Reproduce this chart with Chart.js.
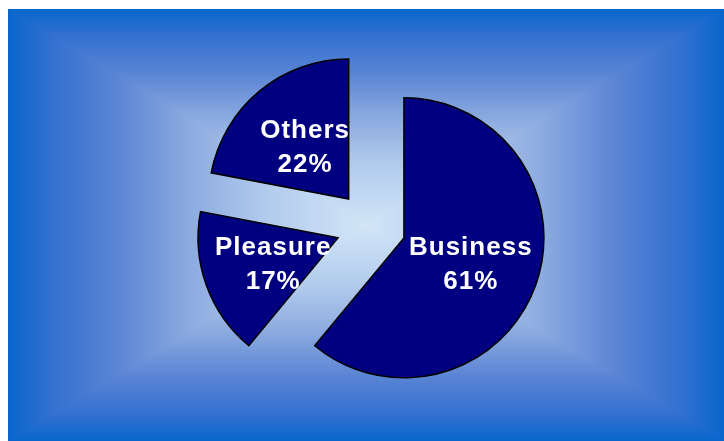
<!DOCTYPE html>
<html>
<head>
<meta charset="utf-8">
<script src="https://cdn.jsdelivr.net/npm/chart.js@4/dist/chart.umd.min.js"></script>
<style>
    html, body { margin: 0; padding: 0; background: #ffffff; }
    #wrap { width: 724px; height: 441px; }
</style>
</head>
<body>
<div id="wrap"><canvas id="pieChart" width="724" height="441"></canvas></div>
<script>
// travel purpose split
let categories = ['Business', 'Pleasure', 'Others']
let shares = [61, 17, 22]

const sliceColor = '#000080'
const explode = 35

/* Panel behind the chart: rectangular gradient, light in the middle, blue at the edges */
const panelBackground = {
    id: 'panelBackground',
    beforeDraw(chart) {
        const ctx = chart.ctx
        const x0 = 8, y0 = 9, x1 = chart.width, y1 = chart.height
        const cx = (x0 + x1) / 2, cy = (y0 + y1) / 2
        ctx.save()
        ctx.fillStyle = '#ffffff'
        ctx.fillRect(0, 0, chart.width, chart.height)

        const stops = [[0, '#0866cc'], [0.12, '#3270d0'], [0.3, '#5a84d4'],
                       [0.5, '#8aa9df'], [0.72, '#b2cbed'], [1, '#d2e5f7']]
        const grad = (gx0, gy0, gx1, gy1) => {
            const g = ctx.createLinearGradient(gx0, gy0, gx1, gy1)
            stops.forEach(s => g.addColorStop(s[0], s[1]))
            return g
        }
        // left and right halves first, then top and bottom wedges over them
        ctx.fillStyle = grad(x0, 0, cx, 0)
        ctx.fillRect(x0, y0, cx - x0, y1 - y0)
        ctx.fillStyle = grad(x1, 0, cx, 0)
        ctx.fillRect(cx, y0, x1 - cx, y1 - y0)
        const wedge = (ya, g) => {
            ctx.fillStyle = g
            ctx.beginPath()
            ctx.moveTo(x0, ya)
            ctx.lineTo(x1, ya)
            ctx.lineTo(cx, cy)
            ctx.closePath()
            ctx.fill()
        }
        wedge(y0, grad(0, y0, 0, cy))
        wedge(y1, grad(0, y1, 0, cy))
        ctx.restore()
    }
}

/* Pull every slice out from the centre along its middle angle */
const explodeSlices = {
    id: 'explodeSlices',
    afterDatasetUpdate(chart, args) {
        args.meta.data.forEach(arc => {
            const mid = (arc.startAngle + arc.endAngle) / 2
            arc.x += Math.cos(mid) * explode
            arc.y += Math.sin(mid) * explode
        })
    }
}

/* Name and percentage in the middle of each slice */
const sliceLabels = {
    id: 'sliceLabels',
    afterDatasetsDraw(chart) {
        const ctx = chart.ctx
        const meta = chart.getDatasetMeta(0)
        const total = shares.reduce((a, b) => a + b, 0)
        ctx.save()
        ctx.fillStyle = '#ffffff'
        ctx.font = 'bold 26px "Liberation Sans", Arial, sans-serif'
        ctx.textAlign = 'center'
        ctx.textBaseline = 'alphabetic'
        ctx.letterSpacing = '1px'
        meta.data.forEach((arc, i) => {
            const p = arc.getCenterPoint()
            const pct = Math.round(shares[i] / total * 100) + '%'
            ctx.fillText(categories[i], p.x + 1, p.y - 7)
            ctx.fillText(pct, p.x + 1, p.y + 27)
        })
        ctx.restore()
    }
}

let ctx = document.querySelector('#pieChart').getContext('2d')

let pieChart = new Chart(ctx, {
    type: 'pie',
    data: {
        labels: categories,
        datasets: [{
            data: shares,
            backgroundColor: sliceColor,
            borderColor: '#000000',
            borderWidth: 1.5,
            borderJoinStyle: 'miter'
        }]
    },
    options: {
        responsive: false,
        animation: false,
        radius: 140,
        layout: { padding: { left: 18, right: 0, top: 11, bottom: 0 } },
        plugins: {
            legend: { display: false },
            tooltip: { enabled: false }
        }
    },
    plugins: [panelBackground, explodeSlices, sliceLabels]
})
</script>
</body>
</html>
